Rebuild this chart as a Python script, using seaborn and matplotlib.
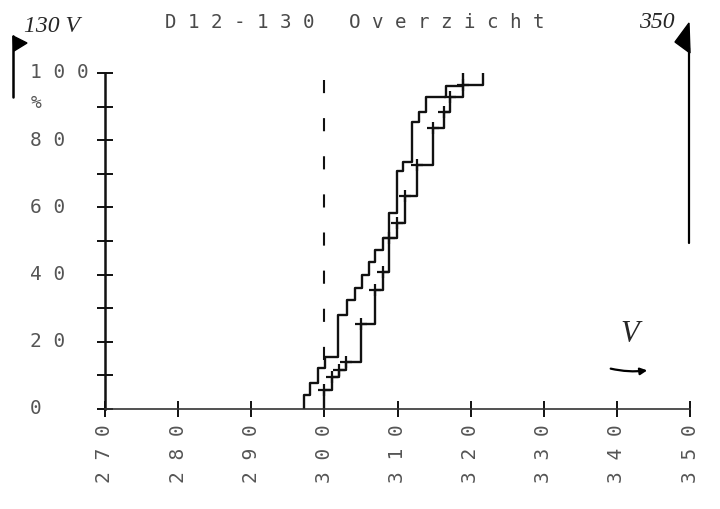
import matplotlib
matplotlib.use("Agg")
import matplotlib.pyplot as plt
from matplotlib.patches import Polygon, FancyArrowPatch
from matplotlib.lines import Line2D
import seaborn as sns
import pandas as pd

# Step positions (V) and cumulative percentage reached at each step
left_volt = [297.2, 298.0, 299.1, 300.1, 301.9, 303.1, 304.2, 305.1, 306.1, 306.9,
             308.0, 308.8, 309.9, 310.8, 312.0, 312.9, 313.9, 316.6, 318.9]
left_pct = [4.2, 7.7, 12.2, 15.5, 28.0, 32.4, 36.0, 39.9, 43.8, 47.3,
            50.9, 58.3, 70.8, 73.5, 85.4, 88.4, 92.9, 96.1, 100.0]

right_volt = [300.0, 301.1, 302.0, 303.0, 305.0, 306.9, 308.0, 308.8, 309.9, 311.0,
              312.6, 314.9, 316.3, 317.2, 318.9, 321.7]
right_pct = [5.6, 9.5, 11.6, 14.0, 25.3, 35.4, 40.8, 50.9, 55.4, 63.4,
             72.6, 83.6, 88.4, 92.9, 96.4, 100.0]

x_ticks = [270, 280, 290, 300, 310, 320, 330, 340, 350]
y_ticks = [0, 20, 40, 60, 80, 100]
y_minor = [10, 30, 50, 70, 90]
nominal_volt = 300
title = "D12-130 Overzicht"

sns.set_style("white")
plt.rcParams["font.family"] = ["DejaVu Sans Mono", "DejaVu Sans"]

W, H = 720, 509
fig = plt.figure(figsize=(W / 100, H / 100), dpi=100)
ax = fig.add_axes([105 / W, 1 - 409 / H, 585 / W, 336 / H])


def steps(volt, pct):
    # start each curve at 0 % on its first step position
    return pd.DataFrame({"V": [volt[0]] + list(volt), "pct": [0.0] + list(pct)})


ink = "#111111"
left = steps(left_volt, left_pct)
right = steps(right_volt, right_pct)
sns.lineplot(data=left, x="V", y="pct", ax=ax, estimator=None, sort=False,
             drawstyle="steps-post", color=ink, lw=1.7)
sns.lineplot(data=right, x="V", y="pct", ax=ax, estimator=None, sort=False,
             drawstyle="steps-post", color=ink, lw=1.7)
# plotter cross marks on the right-hand curve
ax.plot(right_volt[:-1], right_pct[:-1], ls="none", marker="+", ms=9, mew=1.6, color=ink)

# nominal voltage reference
ax.plot([nominal_volt, nominal_volt], [98, 14], color=ink, lw=1.5, ls=(0, (6.3, 12)))

ax.set_xlim(270, 350)
ax.set_ylim(0, 100)
ax.set_xlabel("")
ax.set_ylabel("")
ax.set_xticks(x_ticks)
ax.set_yticks(y_ticks)
ax.set_yticks(y_minor, minor=True)
ax.set_xticklabels([])
ax.set_yticklabels([])
ax.tick_params(axis="both", which="both", direction="inout", length=11, width=1.4,
               color=ink, bottom=True, left=True)
for s in ("top", "right"):
    ax.spines[s].set_visible(False)
ax.spines["left"].set_color(ink)
ax.spines["left"].set_linewidth(1.8)
ax.spines["bottom"].set_color("#333333")
ax.spines["bottom"].set_linewidth(1.2)
ax.spines["bottom"].set_linestyle((0, (3, 1)))
ax.patch.set_alpha(0)

label_col = "#555555"
for v in y_ticks:
    ax.text(-0.128, v, " ".join(str(v)), transform=ax.get_yaxis_transform(),
            ha="left", va="center", fontsize=14, color=label_col)
for v in x_ticks:
    ax.text(v, -0.045, " ".join(str(v)), transform=ax.get_xaxis_transform(),
            ha="center", va="top", rotation=90, fontsize=14, color=label_col)

fig.text(36 / W, 1 - 103 / H, "%", ha="center", va="center", fontsize=13, color=label_col)
fig.text(355 / W, 1 - 22 / H, " ".join(title), ha="center", va="center",
         fontsize=13.8, color="#4a4a4a")


# hand-written markings in figure pixels
def fp(x, y):
    return (x / W, 1 - y / H)


pen = dict(color="black", transform=fig.transFigure)
fig.add_artist(Line2D([13 / W, 13 / W], [1 - 36 / H, 1 - 97 / H], lw=1.8, **pen))
fig.add_artist(Polygon([fp(13, 36), fp(27, 43), fp(14, 51)], closed=True,
                       facecolor="black", edgecolor="black", transform=fig.transFigure))
fig.text(52 / W, 1 - 27 / H, "130 V", ha="center", va="center", fontsize=17,
         style="italic", family="Liberation Serif")

fig.add_artist(Line2D([689 / W, 689 / W], [1 - 48 / H, 1 - 243 / H], lw=1.6, **pen))
fig.add_artist(Polygon([fp(689, 23), fp(675, 42), fp(690, 53)], closed=True,
                       facecolor="black", edgecolor="black", transform=fig.transFigure))
fig.text(657 / W, 1 - 22 / H, "350", ha="center", va="center", fontsize=17,
         style="italic", family="Liberation Serif")

fig.text(630 / W, 1 - 334 / H, "V", ha="center", va="center", fontsize=22,
         style="italic", family="Liberation Serif")
fig.add_artist(FancyArrowPatch(fp(608, 368), fp(650, 370), arrowstyle="-|>",
                               mutation_scale=10, lw=1.6, color="black",
                               connectionstyle="arc3,rad=0.1",
                               transform=fig.transFigure))

fig.savefig("out.png", dpi=100, facecolor="white")
